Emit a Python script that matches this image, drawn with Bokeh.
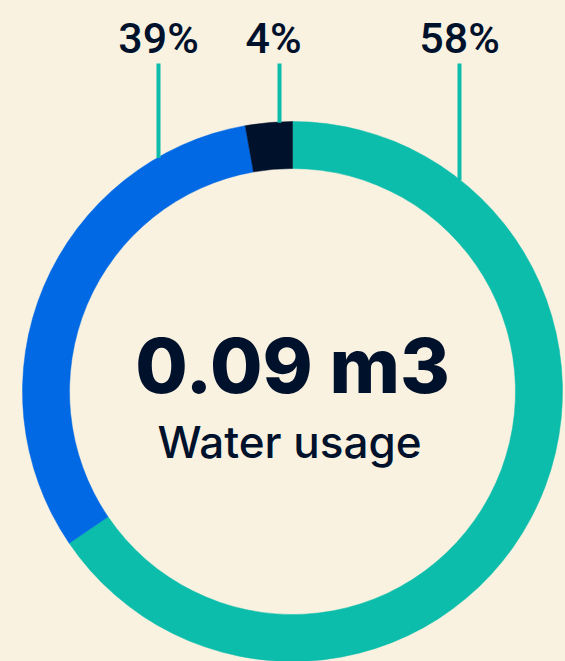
import numpy as np
from bokeh.plotting import figure
from bokeh.models import Range1d, GlobalInlineStyleSheet
from bokeh.core.properties import value
from bokeh.embed import file_html
from bokeh.resources import INLINE

# ---- data ----
segments = ["Teal", "Blue", "Navy"]
shares = [65.5, 31.7, 2.8]            # share of the ring drawn, clockwise from 12 o'clock
pct_labels = ["58%", "39%", "4%"]     # labels printed above the ring
total_value = "0.09 m3"
subtitle = "Water usage"

# ---- styles / layout ----
BG = "#F9F2E1"
COLORS = ["#0BBDAA", "#0169E4", "#00112C"]
TEXT = "#00112C"
LEADER = "#0BBDAA"
R_OUT, R_IN = 270, 223
label_x = [167, -134, -13]            # leader positions, px from the ring centre
text_dx = [0, 0, -6]                  # small horizontal nudges of the label texts
label_y = 354
line_top = 328

W, H = 565, 661
CX, CY = 292, 391                     # ring centre in plot pixels (from top-left)

p = figure(width=W, height=H, output_backend="svg", toolbar_location=None,
           x_range=Range1d(-CX, W - CX), y_range=Range1d(-(H - CY), CY),
           min_border=0, background_fill_color=BG, border_fill_color=BG,
           outline_line_color=None)
p.axis.visible = False
p.grid.visible = False
p.stylesheets.append(GlobalInlineStyleSheet(css=f"body{{background:{BG};}}"))

fr = np.array(shares) / sum(shares)
cum = np.concatenate([[0], np.cumsum(fr)])
start = np.pi / 2 - cum[:-1] * 2 * np.pi
end = np.pi / 2 - cum[1:] * 2 * np.pi
p.annular_wedge(x=0, y=0, inner_radius=R_IN, outer_radius=R_OUT,
                start_angle=list(start), end_angle=list(end), direction="clock",
                fill_color=COLORS, line_color=COLORS, line_width=0.5)

for lx, dx, lab in zip(label_x, text_dx, pct_labels):
    y_end = np.sqrt(R_OUT ** 2 - lx ** 2) - 1
    p.segment(x0=[lx], y0=[line_top], x1=[lx], y1=[y_end], line_color=LEADER, line_width=4)
    p.text(x=[lx + dx], y=[label_y], text=[lab], text_align="center", text_baseline="alphabetic",
           text_font=value("Roboto Medium"), text_font_size="43px", text_color=TEXT)

p.text(x=[0], y=[27], text=[total_value], text_align="center", text_baseline="alphabetic",
       text_font=value("Inter ExtraBold"), text_font_size="76px", text_color=TEXT)
p.text(x=[-3], y=[-50], text=[subtitle], text_align="center", text_baseline="alphabetic",
       text_font=value("Inter Medium"), text_font_size="44px", text_color=TEXT)

open("out.html", "w").write(file_html(p, INLINE))
